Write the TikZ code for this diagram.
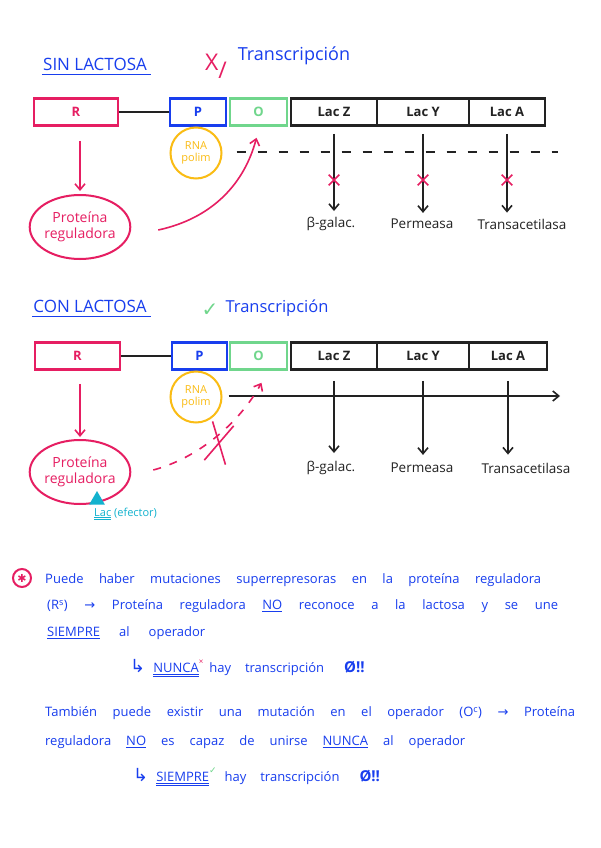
\documentclass[tikz,border=0pt]{standalone}
\usepackage{fontspec}
\setmainfont{Open Sans}
\newfontfamily\symfont{DejaVu Sans}
\usetikzlibrary{arrows.meta,calc,positioning,shapes.geometric,shapes.misc}
\definecolor{genpink}{RGB}{230,30,98}
\definecolor{genblue}{RGB}{24,62,238}
\definecolor{gengreen}{RGB}{112,214,140}
\definecolor{genyellow}{RGB}{250,188,20}
\definecolor{gencyan}{RGB}{18,178,206}
\definecolor{genblack}{RGB}{34,34,34}

\begin{document}
\begin{tikzpicture}[x=1pt,y=-1pt,
  gene/.style={draw=genblack, line width=2.6pt, minimum height=27pt, inner sep=0pt, text=genblack, font=\bfseries\fontsize{13}{13}\selectfont},
  regbox/.style={gene, draw=genpink, text=genpink},
  probox/.style={gene, draw=genblue, text=genblue},
  opbox/.style={gene, draw=gengreen, text=gengreen},
  polim/.style={circle, draw=genyellow, line width=2pt, minimum size=51pt, inner sep=0pt, text=genyellow, align=center, font=\fontsize{11}{12}\selectfont},
  protein/.style={ellipse, draw=genpink, line width=2pt, minimum width=96pt, minimum height=64pt, inner sep=0pt, text=genpink, align=center, font=\fontsize{14}{16}\selectfont},
  effector/.style={regular polygon, regular polygon sides=3, fill=gencyan, minimum size=18pt, inner sep=0pt},
  product/.style={text=genblack, inner sep=1pt, font=\fontsize{13.5}{13.5}\selectfont},
  heading/.style={text=genblue, inner sep=1pt, font=\fontsize{17}{17}\selectfont},
  note/.style={text=genblue, inner sep=0pt, anchor=west, font=\fontsize{13}{15}\selectfont},
  blocked/.style={cross out, draw=genpink, line width=1.6pt, minimum size=9pt, inner sep=0pt},
  genearrow/.style={-{Straight Barb[length=6pt,width=10pt]}, genblack, line width=1.6pt},
  pinkarrow/.style={-{Straight Barb[length=6pt,width=10pt]}, genpink, line width=1.6pt},
  chain/.style={genblack, line width=1.6pt}
]
\fill[white] (0,0) rectangle (600,848);
\useasboundingbox (0,0) rectangle (600,848);

% sin lactosa
\node[heading] (sinlac) at (95,64) {SIN LACTOSA};
\draw[genblue, line width=1.8pt] ($(sinlac.south west)+(0,3)$) -- ($(sinlac.south east)+(3,3)$);
\node[text=genpink, font=\fontsize{23}{23}\selectfont] (nox1) at (216,66) {X\raisebox{-8pt}{/}};
\node[heading, font=\fontsize{18}{18}\selectfont] (trans1) at (294,56) {Transcripción};

\node[regbox, minimum width=84pt] (r1) at (76,112) {R};
\node[probox, minimum width=56pt] (p1) at (198,112) {P};
\node[opbox, minimum width=57pt] (o1) at (258.5,112) {O};
\draw[chain] (r1) -- (p1);
\foreach \g/\x/\w/\lab in {z/334/86/Lac Z, y/423/92/Lac Y, a/507/76/Lac A}
  \node[gene, minimum width=\w pt] (lac\g1) at (\x,112) {\lab};

\node[polim] (rna1) at (196,153) {RNA\\polim};
\coordinate (mrna1a) at ($(rna1.east)+(14,-1)$);
\coordinate (mrna1b) at (558,152);
\draw[chain, dash pattern=on 9pt off 12pt] (mrna1a) -- (mrna1b);

\foreach \g/\x/\lab in {z/331/β-galac., y/422/Permeasa, a/522/Transacetilasa} {
  \node[product] (prod\g1) at (\x,224) {\lab};
  \draw[genearrow, shorten <=7pt, shorten >=5pt] (lac\g1.south) -- (lac\g1.south |- prod\g1.north);
  \node[blocked] (stop\g1) at (lac\g1.south |- 0,180) {};
}

\node[protein] (prot1) at (80,227) {Proteína\\reguladora};
\draw[pinkarrow, shorten <=14pt, shorten >=3pt] (prot1.north |- r1.south) -- (prot1.north);
\coordinate (rep1a) at ($(prot1.east)+(27,3)$);
\coordinate (rep1b) at ($(o1.south)+(-2,11)$);
\draw[pinkarrow] (rep1a) .. controls +(55,-12) and +(-12,45) .. (rep1b);

% con lactosa
\node[heading] (conlac) at (90,306) {CON LACTOSA};
\draw[genblue, line width=1.8pt] ($(conlac.south west)+(0,3)$) -- ($(conlac.south east)+(3,3)$);
\node[text=gengreen, font=\symfont\fontsize{20}{20}\selectfont] (yes2) at (210,310) {✓};
\node[heading, font=\fontsize{16.5}{16.5}\selectfont] (trans2) at (277,308) {Transcripción};

\node[regbox, minimum width=85pt] (r2) at (77.5,356) {R};
\node[probox, minimum width=55pt] (p2) at (199.5,356) {P};
\node[opbox, minimum width=57pt] (o2) at (258.5,356) {O};
\draw[chain] (r2) -- (p2);
\foreach \g/\x/\w/\lab in {z/334/86/Lac Z, y/423/92/Lac Y, a/508/78/Lac A}
  \node[gene, minimum width=\w pt] (lac\g2) at (\x,356) {\lab};

\node[polim] (rna2) at (196,397) {RNA\\polim};
\coordinate (mrna2a) at ($(rna2.east)+(6,-1)$);
\coordinate (mrna2b) at (560,396);
\draw[genearrow] (mrna2a) -- (mrna2b);

\foreach \g/\x/\lab in {z/331/β-galac., y/422/Permeasa, a/526/Transacetilasa} {
  \node[product] (prod\g2) at (\x,468) {\lab};
  \draw[genearrow, shorten <=10pt, shorten >=7pt] (lac\g2.south) -- (lac\g2.south |- prod\g2.north);
}

\node[protein] (prot2) at (80,472) {Proteína\\reguladora};
\draw[pinkarrow, shorten <=13pt, shorten >=2pt] (prot2.north |- r2.south) -- (prot2.north);
\node[effector] (lac2) at (97,500) {};
\node[text=gencyan, inner sep=0pt, anchor=west, font=\fontsize{11}{11}\selectfont] (efector2) at (94,514) {\underline{\underline{Lac}} (efector)};
\coordinate (rep2a) at ($(prot2.east)+(22,-2)$);
\coordinate (rep2b) at ($(o2.south)+(3,12)$);
\draw[pinkarrow, dash pattern=on 8pt off 9pt] (rep2a) .. controls +(45,-12) and +(-22,40) .. (rep2b);
\node[blocked, minimum width=20pt, minimum height=38pt, rotate=-12] (stop2) at (219,443) {};

% notas
\node[circle, draw=genpink, line width=2pt, minimum size=18pt, inner sep=0pt, text=genpink, font=\symfont\fontsize{11}{11}\selectfont] (star) at (22,578) {✱};
\node[note] (note1) at (45,580) {\makebox[496pt][s]{Puede haber mutaciones superrepresoras en la proteína reguladora}};
\node[note] (note2) at (47,606) {\makebox[511pt][s]{(R\textsuperscript{s}) {\symfont →} Proteína reguladora \underline{NO} reconoce a la lactosa y se une}};
\node[note] (note3) at (47,633) {\makebox[158pt][s]{\underline{SIEMPRE} al operador}};
\node[note] (note4) at (130,668) {{\symfont\fontsize{18}{18}\selectfont ↳}\hspace{8pt}\underline{\underline{NUNCA}}\raisebox{8pt}{\textcolor{genpink}{\footnotesize ×}}\hspace{6pt}hay\hspace{14pt}transcripción\hspace{20pt}{\bfseries\fontsize{15}{15}\selectfont Ø!!}};
\node[note] (note5) at (45,713) {\makebox[530pt][s]{También puede existir una mutación en el operador (O\textsuperscript{c}) {\symfont →} Proteína}};
\node[note] (note6) at (45,742) {\makebox[420pt][s]{reguladora \underline{NO} es capaz de unirse \underline{NUNCA} al operador}};
\node[note] (note7) at (133,777) {{\symfont\fontsize{18}{18}\selectfont ↳}\hspace{8pt}\underline{\underline{SIEMPRE}}\raisebox{8pt}{\textcolor{gengreen}{\symfont\small ✓}}\hspace{8pt}hay\hspace{14pt}transcripción\hspace{20pt}{\bfseries\fontsize{15}{15}\selectfont Ø!!}};
\end{tikzpicture}
\end{document}
